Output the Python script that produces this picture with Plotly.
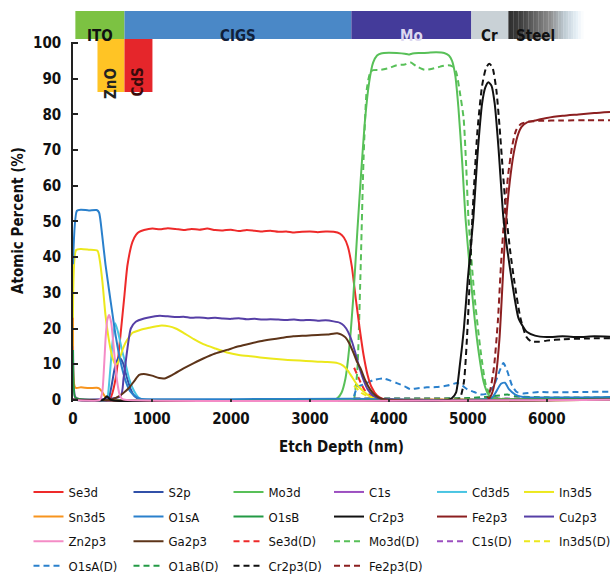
import plotly.graph_objects as go

FONT = "DejaVu Sans Condensed, Liberation Sans Narrow, Arial Narrow, sans-serif"

# ---------------- data: etch depth (nm) vs atomic percent (%) ----------------
se3d_x = [0, 460, 500, 540, 563, 605, 648, 690, 753, 800, 838, 900, 1006, 1100, 1200, 1300, 1400, 1500, 1600, 1700,
          1800, 1900, 2000, 2100, 2200, 2300, 2400, 2500, 2600, 2700, 2800, 2900, 3000, 3100, 3200, 3300, 3380, 3430,
          3480, 3530, 3580, 3630, 3680, 3730, 3780, 3850, 3920, 4000, 6800]
se3d_y = [0, 0, 2, 6, 9.8, 19, 28.5, 37.8, 44.3, 46.3, 47.1, 47.6, 48.0, 47.8, 48.1, 47.9, 47.6, 47.9, 47.7, 48.0,
          47.6, 47.5, 47.7, 47.3, 47.6, 47.4, 47.2, 47.4, 47.1, 47.2, 46.9, 47.1, 47.2, 47.0, 47.2, 47.1, 46.6, 45.5,
          43.0, 37.5, 28.5, 20.0, 12.5, 7.0, 3.6, 1.2, 0.3, 0.1, 0.1]

s2p_x = [0, 440, 480, 530, 580, 630, 680, 730, 780, 850, 6800]
s2p_y = [0, 0, 3, 9, 12, 10.5, 6.5, 3, 1, 0.2, 0.1]

mo3d_x = [0, 3300, 3350, 3400, 3450, 3500, 3550, 3600, 3650, 3700, 3750, 3800, 3850, 3900, 4000, 4100, 4200, 4250,
          4300, 4400, 4500, 4600, 4700, 4760, 4800, 4840, 4880, 4930, 4970, 5020, 5080, 5133, 5200, 5260, 5320, 5400, 6800]
mo3d_y = [0, 0, 0.5, 2, 6, 15, 29, 47, 64, 79, 89, 94.5, 96.5, 97.1, 97.3, 97.2, 97.0, 96.8,
          97.1, 97.2, 97.3, 97.4, 97.2, 96.5, 95, 91, 82, 66, 51, 38, 24, 14, 5, 1.5, 0.4, 0.2, 0.2]

c1s_x = [0, 25, 60, 6800]
c1s_y = [19, 1, 0.3, 0.3]

cd3d5_x = [0, 420, 440, 470, 500, 535, 570, 620, 669, 710, 753, 800, 838, 900, 6800]
cd3d5_y = [0, 0, 1, 8, 16, 21.5, 19, 14, 9.8, 6, 3.4, 1.5, 0.5, 0.1, 0.1]

in3d5_x = [0, 40, 100, 200, 310, 340, 373, 411, 458, 500, 540, 570, 600, 630, 665, 710, 753, 850, 964, 1100,
           1218, 1300, 1400, 1530, 1650, 1800, 1950, 2100, 2250, 2370, 2500, 2650, 2790, 2950, 3100, 3220, 3350, 3420,
           3480, 3530, 3580, 3640, 3700, 3766, 3850, 3950, 6800]
in3d5_y = [15, 42, 42.3, 42.1, 41.8, 39, 33, 23.8, 16.3, 11.8, 9.8, 10.5, 12.2, 14.2, 16, 17.6, 18.8, 19.6, 20.2, 20.8,
           20.6, 20, 18.8, 17, 15.6, 14.4, 13.3, 12.6, 12.2, 11.9, 11.6, 11.3, 11.1, 10.9, 10.7, 10.6, 10.3, 9.6,
           8.2, 6.5, 4.8, 3.2, 2, 0.9, 0.3, 0.1, 0.1]

sn3d5_x = [0, 30, 100, 200, 300, 330, 370, 410, 450, 6800]
sn3d5_y = [23, 3.4, 3.5, 3.3, 3.4, 3.2, 2.2, 0.8, 0.1, 0]

o1sa_x = [0, 50, 100, 200, 300, 330, 370, 411, 455, 500, 540, 584, 625, 669, 720, 795, 850, 900, 2000, 3500,
          5300, 5350, 5420, 5470, 5520, 5600, 5700, 6800]
o1sa_y = [38, 53, 53.3, 53.1, 53.2, 52.5, 46, 38, 31, 24, 18, 12.6, 8.5, 5.1, 2.5, 0.9, 0.3, 0.2, 0.2, 0.3,
          0.5, 2, 4.5, 4.8, 3, 1.5, 0.8, 0.8]

o1sb_x = [0, 25, 60, 6800]
o1sb_y = [14, 0.8, 0.3, 0.3]

cr2p3_x = [0, 380, 430, 480, 4750, 4800, 4850, 4900, 4950, 5000, 5070, 5120, 5180, 5220, 5260, 5300, 5340, 5390,
           5450, 5500, 5560, 5640, 5700, 5750, 5850, 6000, 6200, 6400, 6600, 6800]
cr2p3_y = [0, 0, 1.0, 0, 0, 0.5, 2, 10, 20, 34, 51, 68, 83, 87.5, 89, 88, 83, 70,
           51, 42, 33, 23, 20.5, 19, 18, 17.6, 17.8, 17.6, 17.8, 17.7]

fe2p3_x = [0, 5250, 5300, 5350, 5400, 5440, 5480, 5530, 5580, 5630, 5680, 5750, 5850, 6000, 6200, 6400, 6600, 6800]
fe2p3_y = [0, 0, 1.5, 6, 17, 33, 49, 61, 69, 74, 76.5, 77.8, 78.3, 79, 79.6, 80, 80.4, 80.7]

cu2p3_x = [0, 600, 640, 690, 732, 795, 900, 1006, 1100, 1200, 1300, 1400, 1500, 1600, 1700, 1800, 1900, 2000, 2100,
           2200, 2300, 2400, 2500, 2600, 2700, 2800, 2900, 3000, 3100, 3200, 3300, 3380, 3430, 3480, 3530, 3580,
           3630, 3680, 3730, 3800, 3900, 6800]
cu2p3_y = [0, 1, 6, 14.5, 20, 21.9, 22.8, 23.3, 23.6, 23.4, 23.2, 23.3, 23.0, 23.1, 22.9, 23.0, 22.8, 22.7, 22.9,
           22.6, 22.7, 22.5, 22.6, 22.5, 22.4, 22.5, 22.3, 22.4, 22.2, 22.3, 22.0, 21.6, 20.8, 19.2, 16.5, 12.8,
           8.8, 5.5, 3.0, 1.2, 0.3, 0.1]

zn2p3_x = [0, 340, 370, 395, 415, 435, 458, 485, 510, 535, 560, 590, 620, 660, 6800]
zn2p3_y = [0, 0, 2, 10, 18, 22.5, 23.8, 21.5, 16, 10, 5, 1.5, 0.3, 0, 0]

ga2p3_x = [0, 460, 550, 630, 711, 780, 838, 922, 1000, 1091, 1160, 1259, 1400, 1530, 1650, 1800, 1950, 2100, 2250,
           2370, 2500, 2650, 2790, 2950, 3100, 3220, 3345, 3400, 3450, 3500, 3555, 3600, 3640, 3700, 3760, 3820,
           3900, 6800]
ga2p3_y = [0, 0, 0.6, 1.8, 3.4, 5.4, 7, 7.2, 6.8, 6.1, 6.0, 7, 8.8, 10.3, 11.6, 13, 14, 15, 15.8,
           16.4, 16.9, 17.4, 17.8, 18, 18.2, 18.3, 18.7, 18.3, 17.5, 15.8, 13, 10.5, 8.9, 5.5, 3, 1.4,
           0.3, 0.1]

se3d_d_x = [3560, 3600, 3650, 3700, 3780, 3880, 4000, 6800]
se3d_d_y = [9, 7, 4.5, 2.5, 1, 0.3, 0.1, 0.1]

mo3d_d_x = [3560, 3600, 3640, 3680, 3720, 3760, 3800, 3900, 4000, 4100, 4200, 4270, 4350, 4450, 4550, 4650, 4750,
            4800, 4850, 4900, 4946, 4980, 5007, 5080, 5160, 5230, 5300, 5400, 6800]
mo3d_d_y = [0, 8, 35, 68, 87, 91.5, 92.4, 92.5, 93, 93.8, 94, 94.6, 93.5, 92.5, 92.8, 93.4, 93.8,
            93.5, 92, 86, 79, 65, 51, 30, 14, 4, 1, 0.4, 0.4]

c1s_d_x = [3560, 4500, 5500, 6800]
c1s_d_y = [0.4, 0.4, 0.4, 0.4]

in3d5_d_x = [3560, 3650, 3750, 3850, 6800]
in3d5_d_y = [4, 2, 0.8, 0.2, 0.1]

o1sa_d_x = [3560, 3600, 3700, 3800, 3930, 4020, 4100, 4200, 4270, 4350, 4480, 4600, 4740, 4865, 4930, 4990, 5080,
            5160, 5250, 5330, 5400, 5450, 5500, 5560, 5620, 5700, 5900, 6100, 6400, 6800]
o1sa_d_y = [1, 3.6, 4.5, 5.5, 6, 5.4, 4.7, 3.8, 3, 3.2, 3.5, 3.6, 4, 4.7, 4, 3, 2.2,
            1.5, 1.8, 4, 8, 10.3, 8, 4, 2.2, 1.8, 2.2, 2.1, 2.2, 2.3]

o1ab_d_x = [3560, 4000, 5000, 5400, 5500, 5600, 6000, 6800]
o1ab_d_y = [0.3, 0.4, 0.5, 1.2, 1.5, 1, 0.7, 0.7]

cr2p3_d_x = [3560, 4850, 4900, 4950, 5000, 5057, 5120, 5180, 5230, 5270, 5310, 5360, 5400, 5440, 5490, 5540, 5590,
             5665, 5740, 5800, 5900, 6000, 6200, 6500, 6800]
cr2p3_d_y = [0, 0, 0.5, 5, 22, 51, 75, 88, 93, 94.2, 93.3, 87, 77, 65, 51, 41, 33,
             23, 17.7, 16.4, 16.3, 16.6, 17, 17.2, 17.3]

fe2p3_d_x = [3560, 5230, 5280, 5330, 5380, 5420, 5460, 5510, 5560, 5610, 5670, 5750, 5900, 6200, 6500, 6800]
fe2p3_d_y = [0, 0, 2.5, 9, 22, 38, 51, 63, 71, 75.5, 77.3, 77.9, 78.2, 78.3, 78.4, 78.4]

# layer bar (depth ranges in nm)
layer_names = ["ITO", "CIGS", "Mo", "Cr"]
layer_start = [30, 652, 3525, 5044]
layer_end = [652, 3525, 5044, 5513]
sub_names = ["ZnO", "CdS"]
sub_start = [310, 652]
sub_end = [652, 1006]
steel_start, steel_end = 5513, 6462

# ---------------- series styling / legend layout ----------------
# (name, x, y, color, dashed, legend column, row)
series = [
    ("Se3d(D)", se3d_d_x, se3d_d_y, "#ee2a2a", True, 3, 3),
    ("Mo3d(D)", mo3d_d_x, mo3d_d_y, "#58c058", True, 4, 3),
    ("C1s(D)", c1s_d_x, c1s_d_y, "#9c4fc0", True, 5, 3),
    ("In3d5(D)", in3d5_d_x, in3d5_d_y, "#ece81c", True, 6, 3),
    ("O1sA(D)", o1sa_d_x, o1sa_d_y, "#2a80cc", True, 1, 4),
    ("O1aB(D)", o1ab_d_x, o1ab_d_y, "#239a45", True, 2, 4),
    ("Cr2p3(D)", cr2p3_d_x, cr2p3_d_y, "#111111", True, 3, 4),
    ("Fe2p3(D)", fe2p3_d_x, fe2p3_d_y, "#8c1f20", True, 4, 4),
    ("Se3d", se3d_x, se3d_y, "#ee2a2a", False, 1, 1),
    ("S2p", s2p_x, s2p_y, "#3150a8", False, 2, 1),
    ("Mo3d", mo3d_x, mo3d_y, "#58c058", False, 3, 1),
    ("C1s", c1s_x, c1s_y, "#9c4fc0", False, 4, 1),
    ("Cd3d5", cd3d5_x, cd3d5_y, "#48c4e2", False, 5, 1),
    ("In3d5", in3d5_x, in3d5_y, "#ece81c", False, 6, 1),
    ("Sn3d5", sn3d5_x, sn3d5_y, "#f7941e", False, 1, 2),
    ("O1sA", o1sa_x, o1sa_y, "#2a80cc", False, 2, 2),
    ("O1sB", o1sb_x, o1sb_y, "#239a45", False, 3, 2),
    ("Fe2p3", fe2p3_x, fe2p3_y, "#8c1f20", False, 5, 2),
    ("Cu2p3", cu2p3_x, cu2p3_y, "#563fa6", False, 6, 2),
    ("Ga2p3", ga2p3_x, ga2p3_y, "#5d3419", False, 2, 3),
    ("Cr2p3", cr2p3_x, cr2p3_y, "#111111", False, 4, 2),
    ("Zn2p3", zn2p3_x, zn2p3_y, "#f48cc6", False, 1, 3),
]

W, H = 613, 579
M_L, M_R, M_T, M_B = 73, 3, 42, 177
PLOT_W = W - M_L - M_R
PLOT_H = H - M_T - M_B


def py(p):
    """pixel row -> paper y"""
    return (H - M_B - p) / PLOT_H


def px_(p):
    """pixel column -> paper x"""
    return (p - M_L) / PLOT_W


fig = go.Figure()
for name, xs, ys, color, dashed, col, row in series:
    legend_id = "legend" if col == 1 else f"legend{col}"
    fig.add_trace(go.Scatter(
        x=xs, y=ys, name=name, mode="lines",
        line=dict(color=color, width=2, dash="6px,4px" if dashed else "solid", shape="spline", smoothing=0.6),
        legend=legend_id, legendrank=row, legendgroup=name, showlegend=True, hoverinfo="skip",
    ))

shapes = []
annotations = []
layer_colors = ["#7cc242", "#4a88c7", "#443b9a", "#c9d1d6"]
layer_text_colors = ["#111111", "#10203a", "#dcd8f0", "#111111"]
for nm, a, b, c, tc in zip(layer_names, layer_start, layer_end, layer_colors, layer_text_colors):
    shapes.append(dict(type="rect", xref="x", yref="paper", x0=a, x1=b, y0=py(39), y1=py(11),
                       fillcolor=c, line=dict(width=0), layer="above"))
    annotations.append(dict(text=f"<b>{nm}</b>", x=(a + b) / 2, y=py(25), xref="x", yref="paper",
                            showarrow=False, font=dict(family=FONT, size=15, color=tc)))

# steel with fading gradient
stops = [(0.0, (46, 46, 46)), (0.17, (64, 64, 64)), (0.55, (140, 140, 140)), (0.75, (192, 204, 212)),
         (0.9, (228, 238, 245)), (1.0, (255, 255, 255))]
nslices = 30
for i in range(nslices):
    t = (i + 0.5) / nslices
    rgb = stops[-1][1]
    for j in range(len(stops) - 1):
        if stops[j][0] <= t <= stops[j + 1][0]:
            f = (t - stops[j][0]) / (stops[j + 1][0] - stops[j][0])
            rgb = [round(stops[j][1][k] + f * (stops[j + 1][1][k] - stops[j][1][k])) for k in range(3)]
            break
    xa = steel_start + (steel_end - steel_start) * i / nslices
    xb = steel_start + (steel_end - steel_start) * (i + 1) / nslices + 3
    shapes.append(dict(type="rect", xref="x", yref="paper", x0=xa, x1=xb, y0=py(39), y1=py(11),
                       fillcolor=f"rgb({rgb[0]},{rgb[1]},{rgb[2]})", line=dict(width=0), layer="above"))
annotations.append(dict(text="<b>Steel</b>", x=5860, y=py(25), xref="x", yref="paper",
                        showarrow=False, font=dict(family=FONT, size=15, color="#111111")))

sub_colors = ["#ffc425", "#e5262b"]
sub_text_colors = ["#222222", "#3a0a0a"]
for nm, a, b, c, tc in zip(sub_names, sub_start, sub_end, sub_colors, sub_text_colors):
    shapes.append(dict(type="rect", xref="x", yref="paper", x0=a, x1=b, y0=py(92), y1=py(39),
                       fillcolor=c, line=dict(width=0), layer="above"))
    annotations.append(dict(text=f"<b>{nm}</b>", x=(a + b) / 2, y=py(65.5), xref="x", yref="paper",
                            showarrow=False, textangle=-90, font=dict(family=FONT, size=15, color=tc)))

# y-axis title placed exactly
annotations.append(dict(text="<b>Atomic Percent (%)</b>", x=px_(18), y=py(221), xref="paper", yref="paper",
                        xanchor="center", yanchor="middle", showarrow=False, textangle=-90,
                        font=dict(family=FONT, size=15, color="#111111")))

layout_legends = {}
col_px = [28.5, 128.5, 228.5, 329, 432, 519]
for i, p in enumerate(col_px):
    key = "legend" if i == 0 else f"legend{i + 1}"
    layout_legends[key] = dict(
        x=p / W, y=1 - 477 / H, xref="container", yref="container", xanchor="left", yanchor="top",
        orientation="v", traceorder="grouped", tracegroupgap=4.7, bgcolor="rgba(0,0,0,0)",
        font=dict(family=FONT, size=13, color="#111111"), itemwidth=30, borderwidth=0,
    )

tickfont = dict(family=FONT, size=15, color="#111111", weight="bold")
fig.update_layout(
    width=W, height=H,
    margin=dict(l=M_L, r=M_R, t=M_T, b=M_B, pad=0, autoexpand=False),
    paper_bgcolor="white", plot_bgcolor="white",
    font=dict(family=FONT, size=14, color="#111111"),
    shapes=shapes, annotations=annotations,
    xaxis=dict(range=[0, 6800], tickvals=[0, 1000, 2000, 3000, 4000, 5000, 6000],
               ticks="inside", ticklen=3, tickwidth=1.5, tickcolor="#333333",
               showline=False, showgrid=False, zeroline=False, tickfont=tickfont, ticklabelstandoff=6,
               title=dict(text="<b>Etch Depth (nm)</b>", font=dict(family=FONT, size=15, color="#111111"),
                          standoff=14)),
    yaxis=dict(range=[-0.6, 100.3], tickvals=[0, 10, 20, 30, 40, 50, 60, 70, 80, 90, 100],
               ticks="inside", ticklen=5, tickwidth=1.5, tickcolor="#222222",
               showline=True, linecolor="#222222", linewidth=1.5, showgrid=False, zeroline=False,
               tickfont=tickfont, ticklabelstandoff=7),
    **layout_legends,
)

fig.write_html("out.html", config={"displayModeBar": False},
               post_script="document.body.style.margin='0px';")
